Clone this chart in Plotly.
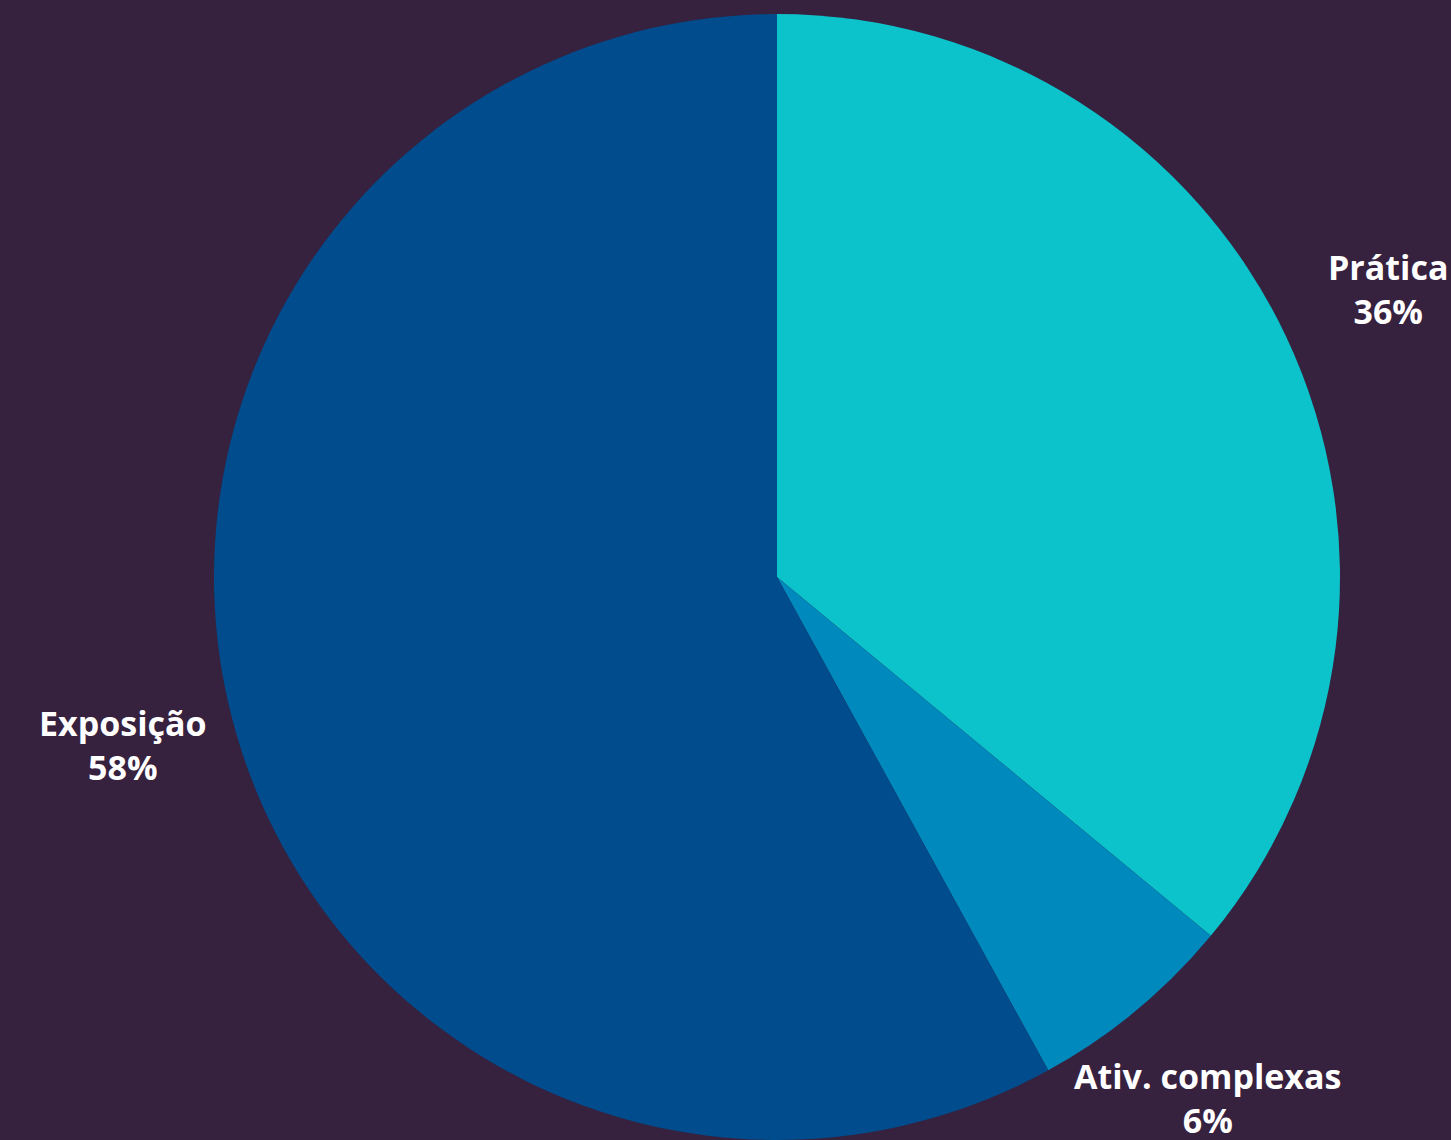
import math
import plotly.graph_objects as go

labels = ["Prática", "Ativ. complexas", "Exposição"]
values = [36, 6, 58]
colors = ["#0DC3CB", "#0089BC", "#004C8C"]

W, H = 1451, 1140
ML, MR, MT, MB = 103, 0, 14, 0
plot_w = W - ML - MR
plot_h = H - MT - MB
radius_px = min(plot_w, plot_h) / 2
label_factor = 1.2

fig = go.Figure(go.Pie(
    labels=labels,
    values=values,
    sort=False,
    direction="clockwise",
    rotation=0,
    marker=dict(colors=colors, line=dict(width=0)),
    textinfo="none",
    hoverinfo="label+percent",
    showlegend=False,
))

total = sum(values)
cum = 0
annotations = []
for lab, v in zip(labels, values):
    mid = (cum + v / 2) / total * 2 * math.pi
    cum += v
    R = radius_px * label_factor
    x = 0.5 + R * math.sin(mid) / plot_w
    y = 0.5 + R * math.cos(mid) / plot_h
    pct = round(v / total * 100)
    annotations.append(dict(
        x=x, y=y, xref="paper", yref="paper",
        text=f"<b>{lab}</b><br><b>{pct}%</b>",
        showarrow=False, xanchor="center", yanchor="middle",
        align="center",
        font=dict(family="Open Sans", size=34, color="white"),
    ))

fig.update_layout(
    width=W, height=H,
    paper_bgcolor="#36213F",
    plot_bgcolor="#36213F",
    margin=dict(l=ML, r=MR, t=MT, b=MB, autoexpand=False),
    annotations=annotations,
)
fig.write_html(
    "out.html",
    config={"displayModeBar": False},
    post_script="document.body.style.margin='0';document.body.style.background='#36213F';",
)
